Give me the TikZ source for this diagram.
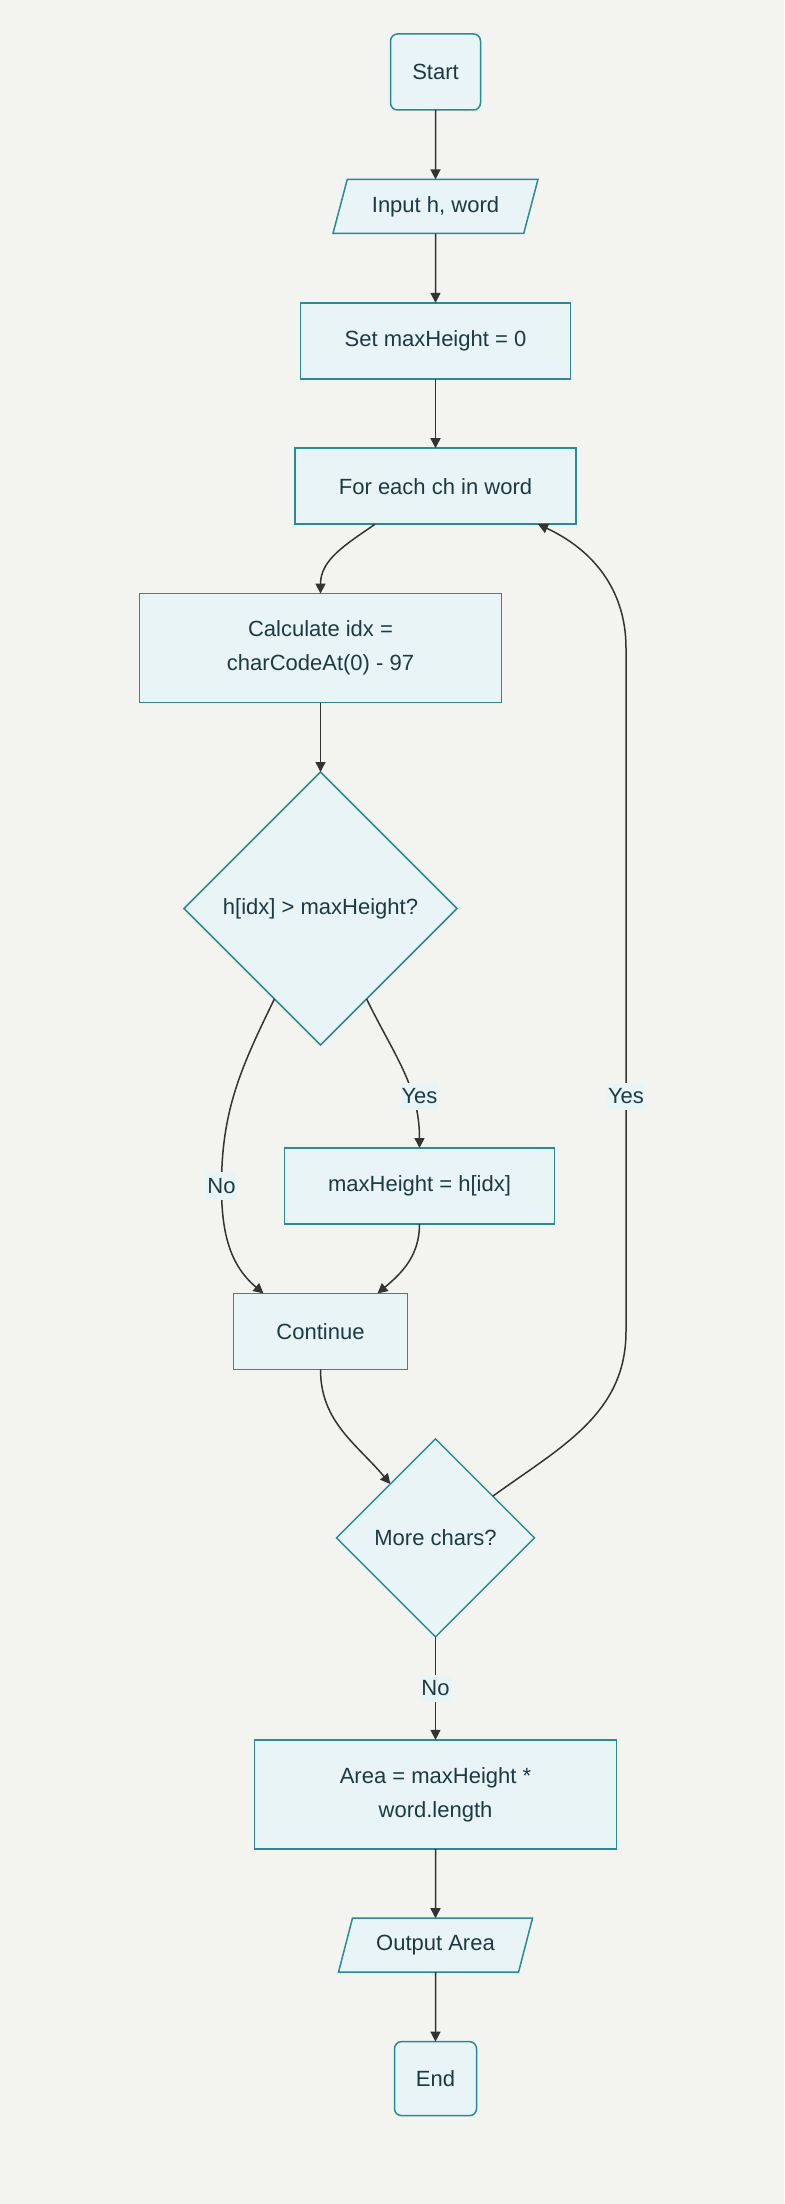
\documentclass[tikz,border=0pt]{standalone}
\usepackage{fontspec}
\setmainfont{Liberation Sans}
\usepackage{tikz}
\usetikzlibrary{shapes.geometric,positioning,arrows.meta,calc}
\definecolor{paper}{RGB}{243,244,239}
\definecolor{nodefill}{RGB}{232,244,245}
\definecolor{nodeedge}{RGB}{42,138,152}
\definecolor{inktext}{RGB}{28,58,68}
\definecolor{arrowgray}{RGB}{51,51,51}

\begin{document}
\begin{tikzpicture}[
    font=\fontsize{11}{17}\selectfont,
    flowbox/.style={draw=nodeedge,fill=nodefill,line width=0.75pt,text=inktext,align=center,inner sep=2pt,outer sep=0pt},
    terminal/.style={flowbox,rectangle,rounded corners=3.5pt,minimum height=38pt},
    iobox/.style={flowbox,trapezium,trapezium left angle=63.43,trapezium right angle=116.57,trapezium stretches body,minimum height=27pt},
    procbox/.style={flowbox,rectangle,minimum height=38pt},
    decision/.style={flowbox,diamond,aspect=1,inner sep=0pt},
    lbl/.style={fill=nodefill,text=inktext,inner xsep=0.5pt,inner ysep=3pt},
    flow/.style={draw=arrowgray,line width=0.75pt,-{Triangle[length=5pt,width=5pt]}},
    node distance=34.7pt
]
    \fill[paper] (0,0) rectangle (392pt,-1102pt);

    \node[terminal,minimum width=45pt] (start) at (217.75pt,-36pt) {Start};
    \node[iobox,minimum width=102.5pt,below=of start] (input) {Input h, word};
    \node[procbox,minimum width=135pt,below=of input] (init) {Set maxHeight = 0};
    \node[procbox,minimum width=140.5pt,below=of init] (loop) {For each ch in word};
    \node[procbox,minimum width=181pt,minimum height=54.5pt,below=of loop,xshift=-57.5pt] (calc) {Calculate idx =\\charCodeAt(0) - 97};
    \node[decision,minimum width=136.5pt,minimum height=136.5pt,below=of calc] (cond) {h[idx] > maxHeight?};
    \node[procbox,minimum width=135pt,below=51.5pt of cond,xshift=49.5pt] (update) {maxHeight = h[idx]};
    \node[procbox,minimum width=87pt,below=of update,xshift=-49.5pt] (cont) {Continue};
    \node[decision,minimum width=99pt,minimum height=99pt,below=of cont,xshift=57.5pt] (more) {More chars?};
    \node[procbox,minimum width=181pt,minimum height=54.5pt,below=51.5pt of more] (area) {Area = maxHeight *\\word.length};
    \node[iobox,minimum width=97pt,below=of area] (output) {Output Area};
    \node[terminal,minimum width=41pt,minimum height=37pt,below=of output] (end) {End};

    % helper points for the bent edges
    \coordinate (ymid) at ($(cond.south)!0.5!(update.north)$);
    \path (cond.center |- update.center) ++(-49.5pt,0) coordinate (nomid);
    \path (loop.center |- ymid) ++(95.25pt,0) coordinate (backx);

    \draw[flow] (start) -- (input);
    \draw[flow] (input) -- (init);
    \draw[flow] (init) -- (loop);
    \draw[flow] ([xshift=-30.25pt]loop.south) to[out=-145,in=90] (calc.north);
    \draw[flow] (calc) -- (cond);
    \draw[flow] (cond.-63) to[out=-64,in=90] (update.north);
    \draw[flow] (cond.-117) to[out=-116,in=90] (nomid) to[out=-90,in=140] ([xshift=-28.5pt]cont.north);
    \draw[flow] (update.south) to[out=-90,in=40] ([xshift=28.5pt]cont.north);
    \draw[flow] (cont.south) to[out=-90,in=130] (more.130);
    \draw[flow] (more.36) to[out=36,in=-90] (backx |- cont.center) -- (backx |- calc.center) to[out=90,in=-25] ([xshift=51.25pt]loop.south);
    \draw[flow] (more) -- node[lbl] (nob) {No} (area);
    \draw[flow] (area) -- (output);
    \draw[flow] (output) -- (end);

    % edge labels
    \node[lbl] (yesa) at (update.north |- ymid) {Yes};
    \node[lbl] (noa) at (nomid) {No};
    \node[lbl] (yesb) at (backx) {Yes};
\end{tikzpicture}
\end{document}
